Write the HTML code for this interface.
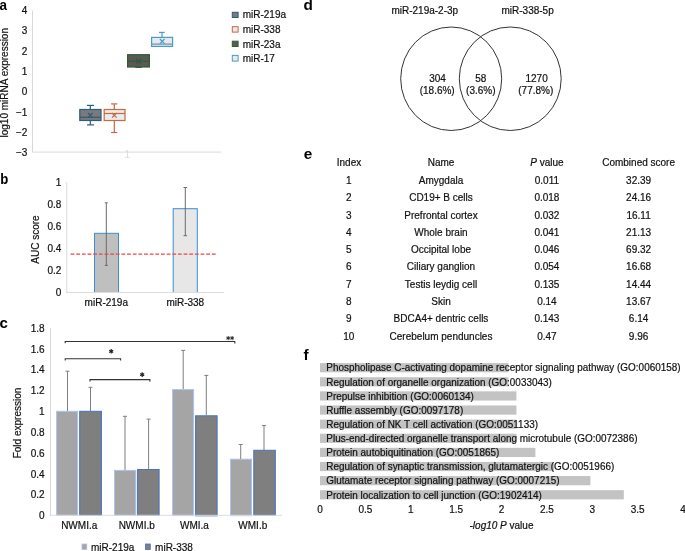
<!DOCTYPE html>
<html><head><meta charset="utf-8">
<style>
html,body{margin:0;padding:0;background:#fff;}
body{width:685px;height:551px;overflow:hidden;}
svg{display:block;will-change:transform;font-family:"Liberation Sans",sans-serif;}
.t{font-size:10px;fill:#111;stroke:#111;stroke-width:0.2px;}
.lab{font-size:14.2px;font-weight:bold;fill:#000;}
</style></head><body>
<svg width="685" height="551" viewBox="0 0 685 551">
<!-- ===== Panel a ===== -->
<text class="lab" transform="translate(-0.4,10.2) scale(0.95,1)">a</text>
<g class="t ta" text-anchor="end">
<text x="27.4" y="13.8">4</text>
<text x="27.4" y="34.2">3</text>
<text x="27.4" y="54.5">2</text>
<text x="27.4" y="74.9">1</text>
<text x="27.4" y="95.2">0</text>
<text x="27.4" y="115.6">−1</text>
<text x="27.4" y="136.0">−2</text>
<text x="27.4" y="156.3">−3</text>
</g>
<text class="t" transform="translate(8.4,82.75) rotate(-90)" text-anchor="middle">log10 miRNA expression</text>
<line x1="32.5" y1="10.5" x2="32.5" y2="152" stroke="#d9d9d9" stroke-width="1"/>
<line x1="32" y1="152.1" x2="221.2" y2="152.1" stroke="#d9d9d9" stroke-width="1"/>
<text x="127.4" y="157.8" font-size="10" fill="#dcdcdc" text-anchor="middle">1</text>
<!-- box1 miR-219a -->
<g stroke="#2b5d7c" stroke-width="1.2" fill="none">
<line x1="90.3" y1="105.4" x2="90.3" y2="109.5"/><line x1="87" y1="105.4" x2="94" y2="105.4"/>
<line x1="90.3" y1="120.5" x2="90.3" y2="124.9"/><line x1="87" y1="124.9" x2="94" y2="124.9"/>
<rect x="79.8" y="109.5" width="21.2" height="11" fill="#7b7a7a"/>
<line x1="79.8" y1="117.3" x2="101" y2="117.3"/>
<path d="M88 113 L92.6 117.6 M92.6 113 L88 117.6"/>
</g>
<!-- box2 miR-338 -->
<g stroke="#c9673f" stroke-width="1.2" fill="none">
<line x1="114.3" y1="103.9" x2="114.3" y2="109.5"/><line x1="111.1" y1="103.9" x2="117.3" y2="103.9"/>
<line x1="114.3" y1="120.5" x2="114.3" y2="132.5"/><line x1="111.1" y1="132.5" x2="117.3" y2="132.5"/>
<rect x="104.2" y="109.5" width="20.8" height="11" fill="#ebebeb"/>
<line x1="104.2" y1="113.5" x2="125" y2="113.5"/>
<path d="M112 113 L116.6 117.6 M116.6 113 L112 117.6"/>
</g>
<!-- box3 miR-23a -->
<g stroke="#2e5e2e" stroke-width="1.2" fill="none">
<line x1="135.3" y1="67.3" x2="141.7" y2="67.3"/>
<rect x="127.6" y="54.7" width="21.8" height="12.3" fill="#595959"/>
<line x1="127.6" y1="61.3" x2="149.4" y2="61.3"/>
<path d="M136.2 59 L140.8 63.6 M140.8 59 L136.2 63.6"/>
</g>
<!-- box4 miR-17 -->
<g stroke="#4c9bc6" stroke-width="1.2" fill="none">
<line x1="162" y1="32.4" x2="162" y2="37.4"/><line x1="159.1" y1="32.4" x2="164.7" y2="32.4"/>
<rect x="151.6" y="37.4" width="21" height="9" fill="#e9e9e9"/>
<line x1="151.6" y1="44.1" x2="172.6" y2="44.1"/>
<path d="M159.9 39 L164.5 43.6 M164.5 39 L159.9 43.6"/>
</g>
<!-- legend a -->
<rect x="232.3" y="12.3" width="5.8" height="5.2" fill="#7b7a7a" stroke="#2b5d7c" stroke-width="1"/>
<rect x="232.3" y="26.7" width="5.8" height="5.4" fill="#ebebeb" stroke="#c9673f" stroke-width="1"/>
<rect x="232.3" y="41.2" width="5.8" height="5.3" fill="#595959" stroke="#2e5e2e" stroke-width="1"/>
<rect x="232.3" y="55.4" width="5.8" height="5.7" fill="#e9e9e9" stroke="#4c9bc6" stroke-width="1"/>
<g class="t">
<text x="242.7" y="18">miR-219a</text>
<text x="242.7" y="32.9">miR-338</text>
<text x="242.7" y="47.5">miR-23a</text>
<text x="242.7" y="61.9">miR-17</text>
</g>

<!-- ===== Panel b ===== -->
<text class="lab" transform="translate(0.2,183.6) scale(0.93,1)">b</text>
<g class="t" text-anchor="end">
<text x="61.4" y="186.2">1</text>
<text x="61.4" y="208.2">0.8</text>
<text x="61.4" y="230.2">0.6</text>
<text x="61.4" y="252.2">0.4</text>
<text x="61.4" y="274.2">0.2</text>
<text x="61.4" y="296.2">0</text>
</g>
<text class="t" transform="translate(38.8,239.5) rotate(-90)" text-anchor="middle">AUC score</text>
<line x1="66.8" y1="182" x2="66.8" y2="293" stroke="#d9d9d9" stroke-width="1"/>
<rect x="94.5" y="233.3" width="24" height="59.2" fill="#bfbfbf" stroke="#3f8ed3" stroke-width="1"/>
<rect x="173.2" y="208.7" width="24.1" height="83.8" fill="#e7e7e7" stroke="#3f8ed3" stroke-width="1"/>
<line x1="66.5" y1="292.5" x2="224" y2="292.5" stroke="#dcdcdc" stroke-width="1"/>
<g stroke="#6b6b6b" stroke-width="1">
<line x1="106.3" y1="202.8" x2="106.3" y2="265.4"/><line x1="104.8" y1="202.8" x2="107.8" y2="202.8"/><line x1="104.8" y1="265.4" x2="107.8" y2="265.4"/>
<line x1="185.3" y1="187.5" x2="185.3" y2="235.7"/><line x1="183.5" y1="187.5" x2="187.1" y2="187.5"/><line x1="183.5" y1="235.7" x2="187.1" y2="235.7"/>
</g>
<line x1="70.6" y1="254.2" x2="216" y2="254.2" stroke="#ee4545" stroke-width="1.3" stroke-dasharray="3.8,1.85"/>
<g class="t" text-anchor="middle">
<text x="106.3" y="305.8">miR-219a</text>
<text x="185.3" y="305.8">miR-338</text>
</g>

<!-- ===== Panel c ===== -->
<text class="lab" transform="translate(-0.5,327.6) scale(1.06,1)">c</text>
<g class="t" text-anchor="end">
<text x="44.6" y="331.8">1.8</text>
<text x="44.6" y="352.6">1.6</text>
<text x="44.6" y="373.4">1.4</text>
<text x="44.6" y="394.3">1.2</text>
<text x="44.6" y="415.1">1</text>
<text x="44.6" y="435.9">0.8</text>
<text x="44.6" y="456.7">0.6</text>
<text x="44.6" y="477.5">0.4</text>
<text x="44.6" y="498.4">0.2</text>
<text x="44.6" y="519.2">0</text>
</g>
<text class="t" transform="translate(20.6,423) rotate(-90)" text-anchor="middle">Fold expression</text>
<line x1="50.5" y1="328" x2="50.5" y2="516" stroke="#d9d9d9" stroke-width="1"/>
<!-- bars -->
<g stroke-width="1">
<rect x="56.6" y="411.3" width="21" height="104" fill="#a5a5a5" stroke="#a9c4f0"/>
<rect x="79.7" y="411.3" width="21.7" height="104" fill="#7f7f7f" stroke="#4472c4"/>
<rect x="114.5" y="470.4" width="21.3" height="45" fill="#a5a5a5" stroke="#a9c4f0"/>
<rect x="137.6" y="469.5" width="21.5" height="46" fill="#7f7f7f" stroke="#4472c4"/>
<rect x="172.6" y="389.6" width="21" height="126" fill="#a5a5a5" stroke="#a9c4f0"/>
<rect x="195.6" y="415.8" width="21.5" height="100" fill="#7f7f7f" stroke="#4472c4"/>
<rect x="230.5" y="459.2" width="21" height="56.5" fill="#a5a5a5" stroke="#a9c4f0"/>
<rect x="253.8" y="450.3" width="21.5" height="65" fill="#7f7f7f" stroke="#4472c4"/>
</g>
<line x1="50" y1="515.3" x2="282" y2="515.3" stroke="#dcdcdc" stroke-width="1"/>
<g stroke="#7f7f7f" stroke-width="1">
<line x1="67.5" y1="371.2" x2="67.5" y2="411"/><line x1="65.5" y1="371.2" x2="69.5" y2="371.2"/>
<line x1="90.5" y1="387.3" x2="90.5" y2="411"/><line x1="88.5" y1="387.3" x2="92.5" y2="387.3"/>
<line x1="125" y1="416.3" x2="125" y2="470"/><line x1="123" y1="416.3" x2="127" y2="416.3"/>
<line x1="148.6" y1="419.1" x2="148.6" y2="469"/><line x1="146.6" y1="419.1" x2="150.6" y2="419.1"/>
<line x1="183.2" y1="350.4" x2="183.2" y2="389"/><line x1="181.2" y1="350.4" x2="185.2" y2="350.4"/>
<line x1="206.3" y1="375.4" x2="206.3" y2="415"/><line x1="204.3" y1="375.4" x2="208.3" y2="375.4"/>
<line x1="240.7" y1="444.5" x2="240.7" y2="459"/><line x1="238.7" y1="444.5" x2="242.7" y2="444.5"/>
<line x1="264" y1="425.6" x2="264" y2="450"/><line x1="262" y1="425.6" x2="266" y2="425.6"/>
</g>
<!-- significance -->
<g stroke="#333" stroke-width="1.1" fill="none">
<path d="M65.2 343.3 V341.5 H234.8 V343.5"/>
<path d="M65.2 360.6 V358.8 H120.6 V360.6"/>
<path d="M90 381.6 V379.6 H149.9 V381.7"/>
</g>
<path d="M111.20 349.00L111.20 353.60M113.19 350.15L109.21 352.45M113.19 352.45L109.21 350.15M142.20 372.30L142.20 376.90M144.19 373.45L140.21 375.75M144.19 375.75L140.21 373.45" stroke="#222" stroke-width="1.2" fill="none"/>
<path d="M228.20 336.00L228.20 340.20M230.02 337.05L226.38 339.15M230.02 339.15L226.38 337.05M232.10 336.00L232.10 340.20M233.92 337.05L230.28 339.15M233.92 339.15L230.28 337.05" stroke="#222" stroke-width="0.95" fill="none"/>
<g class="t" text-anchor="middle">
<text x="79.2" y="529">NWMI.a</text>
<text x="136.7" y="529">NWMI.b</text>
<text x="194.4" y="529">WMI.a</text>
<text x="252.8" y="529">WMI.b</text>
</g>
<rect x="82" y="544" width="4.8" height="5.6" fill="#a5a5a5" stroke="#a9c4f0" stroke-width="0.8"/>
<rect x="145.5" y="544" width="4.8" height="5.6" fill="#7f7f7f" stroke="#4472c4" stroke-width="0.8"/>
<g class="t">
<text x="91" y="550.8">miR-219a</text>
<text x="155.1" y="550.8">miR-338</text>
</g>

<!-- ===== Panel d ===== -->
<text class="lab" transform="translate(303.6,10.1) scale(1.08,1)">d</text>
<g class="t" text-anchor="middle">
<text x="424.8" y="13.6">miR-219a-2-3p</text>
<text x="527.6" y="13.6">miR-338-5p</text>
</g>
<ellipse cx="451.2" cy="78.75" rx="50.5" ry="51.75" fill="none" stroke="#333" stroke-width="1"/>
<ellipse cx="510.25" cy="78.75" rx="50.95" ry="51.75" fill="none" stroke="#333" stroke-width="1"/>
<g class="t" text-anchor="middle">
<text x="437.5" y="82">304</text>
<text x="437.2" y="94.2">(18.6%)</text>
<text x="480.8" y="82">58</text>
<text x="480.8" y="94.2">(3.6%)</text>
<text x="536.6" y="82">1270</text>
<text x="535.8" y="94.2">(77.8%)</text>
</g>

<!-- ===== Panel e ===== -->
<text class="lab" transform="translate(303.8,159.2) scale(1.08,1)">e</text>
<g class="t" text-anchor="middle">
<text x="349" y="166">Index</text>
<text x="441" y="166">Name</text>
<text x="546.9" y="166"><tspan font-style="italic">P</tspan> value</text>
<text x="638.6" y="166">Combined score</text>
</g>
<g class="t" text-anchor="middle">
<text x="348.8" y="183.9">1</text><text x="441" y="183.9">Amygdala</text><text x="546.9" y="183.9">0.011</text><text x="638.6" y="183.9">32.39</text>
<text x="348.8" y="201.2">2</text><text x="441" y="201.2">CD19+ B cells</text><text x="546.9" y="201.2">0.018</text><text x="638.6" y="201.2">24.16</text>
<text x="348.8" y="218.5">3</text><text x="441" y="218.5">Prefrontal cortex</text><text x="546.9" y="218.5">0.032</text><text x="638.6" y="218.5">16.11</text>
<text x="348.8" y="235.8">4</text><text x="441" y="235.8">Whole brain</text><text x="546.9" y="235.8">0.041</text><text x="638.6" y="235.8">21.13</text>
<text x="348.8" y="253.1">5</text><text x="441" y="253.1">Occipital lobe</text><text x="546.9" y="253.1">0.046</text><text x="638.6" y="253.1">69.32</text>
<text x="348.8" y="270.4">6</text><text x="441" y="270.4">Ciliary ganglion</text><text x="546.9" y="270.4">0.054</text><text x="638.6" y="270.4">16.68</text>
<text x="348.8" y="287.7">7</text><text x="441" y="287.7">Testis leydig cell</text><text x="546.9" y="287.7">0.135</text><text x="638.6" y="287.7">14.44</text>
<text x="348.8" y="305">8</text><text x="441" y="305">Skin</text><text x="546.9" y="305">0.14</text><text x="638.6" y="305">13.67</text>
<text x="348.8" y="322.3">9</text><text x="441" y="322.3">BDCA4+ dentric cells</text><text x="546.9" y="322.3">0.143</text><text x="638.6" y="322.3">6.14</text>
<text x="348.8" y="339.6">10</text><text x="441" y="339.6">Cerebelum penduncles</text><text x="546.9" y="339.6">0.47</text><text x="638.6" y="339.6">9.96</text>
</g>

<!-- ===== Panel f ===== -->
<text class="lab" transform="translate(303.6,360) scale(1.08,1)">f</text>
<g fill="#c3c3c3">
<rect x="320" y="363.10" width="188.5" height="9.2"/>
<rect x="320" y="377.22" width="188.5" height="9.2"/>
<rect x="320" y="391.34" width="196.4" height="9.2"/>
<rect x="320" y="405.46" width="196.4" height="9.2"/>
<rect x="320" y="419.58" width="196.4" height="9.2"/>
<rect x="320" y="433.70" width="196.4" height="9.2"/>
<rect x="320" y="447.82" width="215.4" height="9.2"/>
<rect x="320" y="461.94" width="234" height="9.2"/>
<rect x="320" y="476.06" width="270.4" height="9.2"/>
<rect x="320" y="490.18" width="303.8" height="9.2"/>
</g>
<g class="t" transform="translate(326.3,0) scale(0.995,1)">
<text x="0" y="371.50">Phospholipase C-activating dopamine receptor signaling pathway (GO:0060158)</text>
<text x="0" y="385.62">Regulation of organelle organization (GO:0033043)</text>
<text x="0" y="399.74">Prepulse inhibition (GO:0060134)</text>
<text x="0" y="413.86">Ruffle assembly (GO:0097178)</text>
<text x="0" y="427.98">Regulation of NK T cell activation (GO:0051133)</text>
<text x="0" y="442.10">Plus-end-directed organelle transport along microtubule (GO:0072386)</text>
<text x="0" y="456.22">Protein autobiquitination (GO:0051865)</text>
<text x="0" y="470.34">Regulation of synaptic transmission, glutamatergic (GO:0051966)</text>
<text x="0" y="484.46">Glutamate receptor signaling pathway (GO:0007215)</text>
<text x="0" y="498.58">Protein localization to cell junction (GO:1902414)</text>
</g>
<g class="t" text-anchor="middle">
<text x="320" y="513">0</text>
<text x="365.4" y="513">0.5</text>
<text x="410.8" y="513">1</text>
<text x="456.1" y="513">1.5</text>
<text x="501.5" y="513">2</text>
<text x="546.9" y="513">2.5</text>
<text x="592.3" y="513">3</text>
<text x="637.6" y="513">3.5</text>
<text x="683" y="513">4</text>
</g>
<text class="t" x="501.5" y="529" text-anchor="middle"><tspan font-style="italic">-log10 P</tspan> value</text>
</svg>
</body></html>
